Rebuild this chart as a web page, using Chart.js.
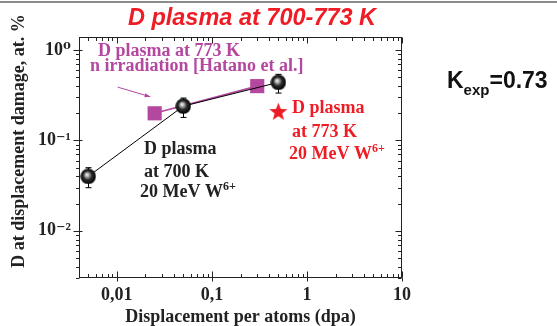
<!DOCTYPE html>
<html>
<head>
<meta charset="utf-8">
<script src="https://cdn.jsdelivr.net/npm/chart.js@4.4.1/dist/chart.umd.min.js"></script>
<style>
  html, body { margin: 0; padding: 0; background: #ffffff; }
  #wrap { width: 557px; height: 326px; }
</style>
</head>
<body>
<div id="wrap"><canvas id="c" width="557" height="326"></canvas></div>
<script>
// ---------------- data ----------------
const dpaW6 = [0.005, 0.05, 0.5];          // D plasma at 700 K, 20 MeV W6+
const dW6 = [0.04, 0.24, 0.44];
const dW6ErrUp = [0.010, 0.055, 0.10];
const dW6ErrDown = [0.010, 0.060, 0.105];

const dpaNeutron = [0.025, 0.3];           // D plasma at 773 K, n irradiation [Hatano et al.]
const dNeutron = [0.20, 0.40];

const dpaW6hot = [0.5];                    // D plasma at 773 K, 20 MeV W6+
const dW6hot = [0.21];

const xTickValues = [0.01, 0.1, 1, 10];
const xTickLabels = ['0,01', '0,1', '1', '10'];
const yTickValues = [1, 0.1, 0.01];
const yTickLabels = ['10\u2070', '10\u207B\u00B9', '10\u207B\u00B2'];

// ---------------- styles ----------------
const SERIF = "'Liberation Serif', 'Times New Roman', 'DejaVu Serif', serif";
const SANS = "'Liberation Sans', Arial, 'DejaVu Sans', sans-serif";
const PURPLE = '#b4479f';
const RED = '#ee1c24';
const INK = '#222222';

function makeSphere(d) {
  const cv = document.createElement('canvas');
  cv.width = d; cv.height = d;
  const g = cv.getContext('2d');
  const r = d / 2;
  const grad = g.createRadialGradient(r - 1.5, r - 2, 0, r, r, r);
  grad.addColorStop(0, '#ffffff');
  grad.addColorStop(0.22, '#b8b8b8');
  grad.addColorStop(0.55, '#2a2a2a');
  grad.addColorStop(1, '#000000');
  g.fillStyle = grad;
  g.beginPath(); g.arc(r, r, r - 0.3, 0, Math.PI * 2); g.fill();
  return cv;
}
function makeStar(d, color) {
  const cv = document.createElement('canvas');
  cv.width = d; cv.height = d;
  const g = cv.getContext('2d');
  const R = d / 2, ri = R * 0.42, cx = d / 2, cy = d / 2 + 0.8;
  g.fillStyle = color;
  g.beginPath();
  for (let i = 0; i < 10; i++) {
    const a = -Math.PI / 2 + i * Math.PI / 5;
    const rr = (i % 2 === 0) ? R : ri;
    const px = cx + rr * Math.cos(a), py = cy + rr * Math.sin(a);
    if (i === 0) g.moveTo(px, py); else g.lineTo(px, py);
  }
  g.closePath(); g.fill();
  return cv;
}
const sphereImg = makeSphere(16);
const starImg = makeStar(19, RED);

function zip(xs, ys) { return xs.map((x, i) => ({ x: x, y: ys[i] })); }
function isDecade(v) { const l = Math.log10(v); return Math.abs(l - Math.round(l)) < 1e-6; }
function isNice(v) {
  const e = Math.floor(Math.log10(v) + 1e-9);
  const m = v / Math.pow(10, e);
  return Math.abs(m - Math.round(m)) < 1e-6;
}
function labelFor(values, labels, v) {
  for (let i = 0; i < values.length; i++) if (Math.abs(Math.log10(values[i]) - Math.log10(v)) < 1e-6) return labels[i];
  return '';
}

function textWithSup(ctx, main, sup, x, y, font, supFont, color) {
  ctx.fillStyle = color;
  ctx.textAlign = 'left';
  ctx.textBaseline = 'alphabetic';
  ctx.font = font;
  ctx.fillText(main, x, y);
  const w = ctx.measureText(main).width;
  if (sup) {
    ctx.font = supFont;
    ctx.fillText(sup, x + w, y - 7);
  }
}

const decor = {
  id: 'decor',
  beforeDraw(chart) {
    const c = chart.ctx;
    c.save();
    c.fillStyle = '#ffffff';
    c.fillRect(0, 0, chart.width, chart.height);
    c.fillStyle = '#8c8c8c';
    c.fillRect(0, 1, chart.width, 2);
    c.restore();
  },
  beforeDatasetsDraw(chart) {
    const c = chart.ctx, xs = chart.scales.x, ys = chart.scales.y;
    c.save();
    c.strokeStyle = '#000';
    c.lineWidth = 1;
    for (let i = 0; i < dpaW6.length; i++) {
      const px = Math.round(xs.getPixelForValue(dpaW6[i])) + 0.5;
      const top = ys.getPixelForValue(dW6[i] + dW6ErrUp[i]);
      const bot = ys.getPixelForValue(dW6[i] - dW6ErrDown[i]);
      c.beginPath();
      c.moveTo(px, top); c.lineTo(px, bot);
      c.moveTo(px - 3, top); c.lineTo(px + 3, top);
      c.moveTo(px - 3, bot); c.lineTo(px + 3, bot);
      c.stroke();
    }
    c.restore();
  },
  afterDraw(chart) {
    const c = chart.ctx, a = chart.chartArea, xs = chart.scales.x, ys = chart.scales.y;
    c.save();
    // frame
    c.strokeStyle = INK;
    c.lineWidth = 1;
    const L = Math.round(a.left) + 0.5, R = Math.round(a.right) - 0.5;
    const T = Math.round(a.top) + 0.5, B = Math.round(a.bottom) - 0.5;
    c.strokeRect(L, T, R - L, B - T);
    // ticks
    c.beginPath();
    xs.ticks.forEach(t => {
      if (!isNice(t.value)) return;
      const p = Math.round(xs.getPixelForValue(t.value)) + 0.5;
      const maj = isDecade(t.value);
      const len = maj ? 6 : 3.5;
      c.moveTo(p, B); c.lineTo(p, B - len);
      if (maj) { c.moveTo(p, B); c.lineTo(p, B + 4); }
      c.moveTo(p, T); c.lineTo(p, T + len);
    });
    ys.ticks.forEach(t => {
      if (!isNice(t.value)) return;
      const p = Math.round(ys.getPixelForValue(t.value)) + 0.5;
      const maj = isDecade(t.value);
      const len = maj ? 6 : 3.5;
      c.moveTo(L, p); c.lineTo(L - len, p);
      if (maj) { c.moveTo(L, p); c.lineTo(L + 3, p); }
      c.moveTo(R, p); c.lineTo(R - len, p);
    });
    c.stroke();

    // title
    c.fillStyle = RED;
    c.font = "italic bold 23.5px " + SANS;
    c.textAlign = 'center';
    c.textBaseline = 'alphabetic';
    c.fillText('D plasma at 700-773 K', 252, 25);

    // y axis title
    c.save();
    c.translate(19, 141);
    c.rotate(-Math.PI / 2);
    c.fillStyle = INK;
    c.font = "bold 18px " + SERIF;
    c.textAlign = 'center';
    c.textBaseline = 'middle';
    c.fillText('D at displacement damage, at. %', 0, 0);
    c.restore();

    const F = "bold 18px " + SERIF, FS = "bold 12px " + SERIF;
    // purple annotation
    textWithSup(c, 'D plasma at 773 K', '', 98, 56, F, FS, PURPLE);
    textWithSup(c, 'n irradiation [Hatano et al.]', '', 90, 71, F, FS, PURPLE);
    // arrow
    const ax0 = xs.getPixelForValue(0.0102), ay0 = ys.getPixelForValue(0.39);
    const ax1 = xs.getPixelForValue(0.0225), ay1 = ys.getPixelForValue(0.305);
    c.strokeStyle = PURPLE; c.fillStyle = PURPLE; c.lineWidth = 1;
    c.beginPath(); c.moveTo(ax0, ay0); c.lineTo(ax1, ay1); c.stroke();
    const ang = Math.atan2(ay1 - ay0, ax1 - ax0);
    c.beginPath();
    c.moveTo(ax1, ay1);
    c.lineTo(ax1 - 6 * Math.cos(ang - 0.35), ay1 - 6 * Math.sin(ang - 0.35));
    c.lineTo(ax1 - 6 * Math.cos(ang + 0.35), ay1 - 6 * Math.sin(ang + 0.35));
    c.closePath(); c.fill();

    // black annotation
    textWithSup(c, 'D plasma', '', 144, 154, F, FS, INK);
    textWithSup(c, 'at 700 K', '', 144, 177, F, FS, INK);
    textWithSup(c, '20 MeV W', '6+', 140, 197, F, FS, INK);
    // red annotation
    textWithSup(c, 'D plasma', '', 292, 113, F, FS, RED);
    textWithSup(c, 'at 773 K', '', 292, 137, F, FS, RED);
    textWithSup(c, '20 MeV W', '6+', 289, 159, F, FS, RED);

    // K_exp
    c.fillStyle = '#111';
    c.textAlign = 'left';
    c.textBaseline = 'alphabetic';
    c.font = "bold 23px " + SANS;
    c.fillText('K', 447, 88);
    let kx = 447 + c.measureText('K').width;
    c.font = "bold 15px " + SANS;
    c.fillText('exp', kx, 95);
    kx += c.measureText('exp').width;
    c.font = "bold 23px " + SANS;
    c.fillText('=0.73', kx, 88);
    c.restore();
  }
};

const chart = new Chart(document.getElementById('c'), {
  type: 'scatter',
  data: {
    datasets: [
      {
        label: 'D plasma at 700 K, 20 MeV W6+',
        data: zip(dpaW6, dW6),
        showLine: true,
        borderColor: '#000000',
        borderWidth: 1,
        pointStyle: sphereImg,
        pointRadius: 8,
        backgroundColor: '#000'
      },
      {
        label: 'D plasma at 773 K, 20 MeV W6+',
        data: zip(dpaW6hot, dW6hot),
        showLine: false,
        pointStyle: starImg,
        pointRadius: 9,
        backgroundColor: RED,
        borderColor: RED
      },
      {
        label: 'D plasma at 773 K, n irradiation [Hatano et al.]',
        data: zip(dpaNeutron, dNeutron),
        showLine: true,
        borderColor: PURPLE,
        borderWidth: 1.6,
        pointStyle: 'rect',
        pointRadius: 10,
        pointBackgroundColor: PURPLE,
        pointBorderColor: PURPLE,
        pointBorderWidth: 0,
        backgroundColor: PURPLE
      }
    ]
  },
  options: {
    responsive: false,
    animation: false,
    devicePixelRatio: 1,
    layout: { padding: { top: 37, right: 155, left: 0, bottom: 0 } },
    plugins: { legend: { display: false }, tooltip: { enabled: false }, title: { display: false } },
    scales: {
      x: {
        type: 'logarithmic',
        min: 0.004,
        max: 10,
        grid: { display: false, drawTicks: false },
        border: { display: false },
        afterFit: s => { s.height = 48; },
        ticks: {
          autoSkip: false,
          maxRotation: 0,
          padding: 7,
          color: INK,
          font: { family: SERIF, size: 18, weight: 'bold' },
          callback: v => labelFor(xTickValues, xTickLabels, v)
        },
        title: {
          display: true,
          text: 'Displacement per atoms (dpa)',
          color: INK,
          font: { family: SERIF, size: 18, weight: 'bold', lineHeight: 1 },
          padding: { top: 0, bottom: 0 }
        }
      },
      y: {
        type: 'logarithmic',
        min: 0.003,
        max: 1.4,
        grid: { display: false, drawTicks: false },
        border: { display: false },
        afterFit: s => { s.width = 79; },
        ticks: {
          autoSkip: false,
          padding: 8,
          color: INK,
          font: { family: SERIF, size: 18, weight: 'bold' },
          callback: v => labelFor(yTickValues, yTickLabels, v)
        }
      }
    }
  },
  plugins: [decor]
});
</script>
</body>
</html>
